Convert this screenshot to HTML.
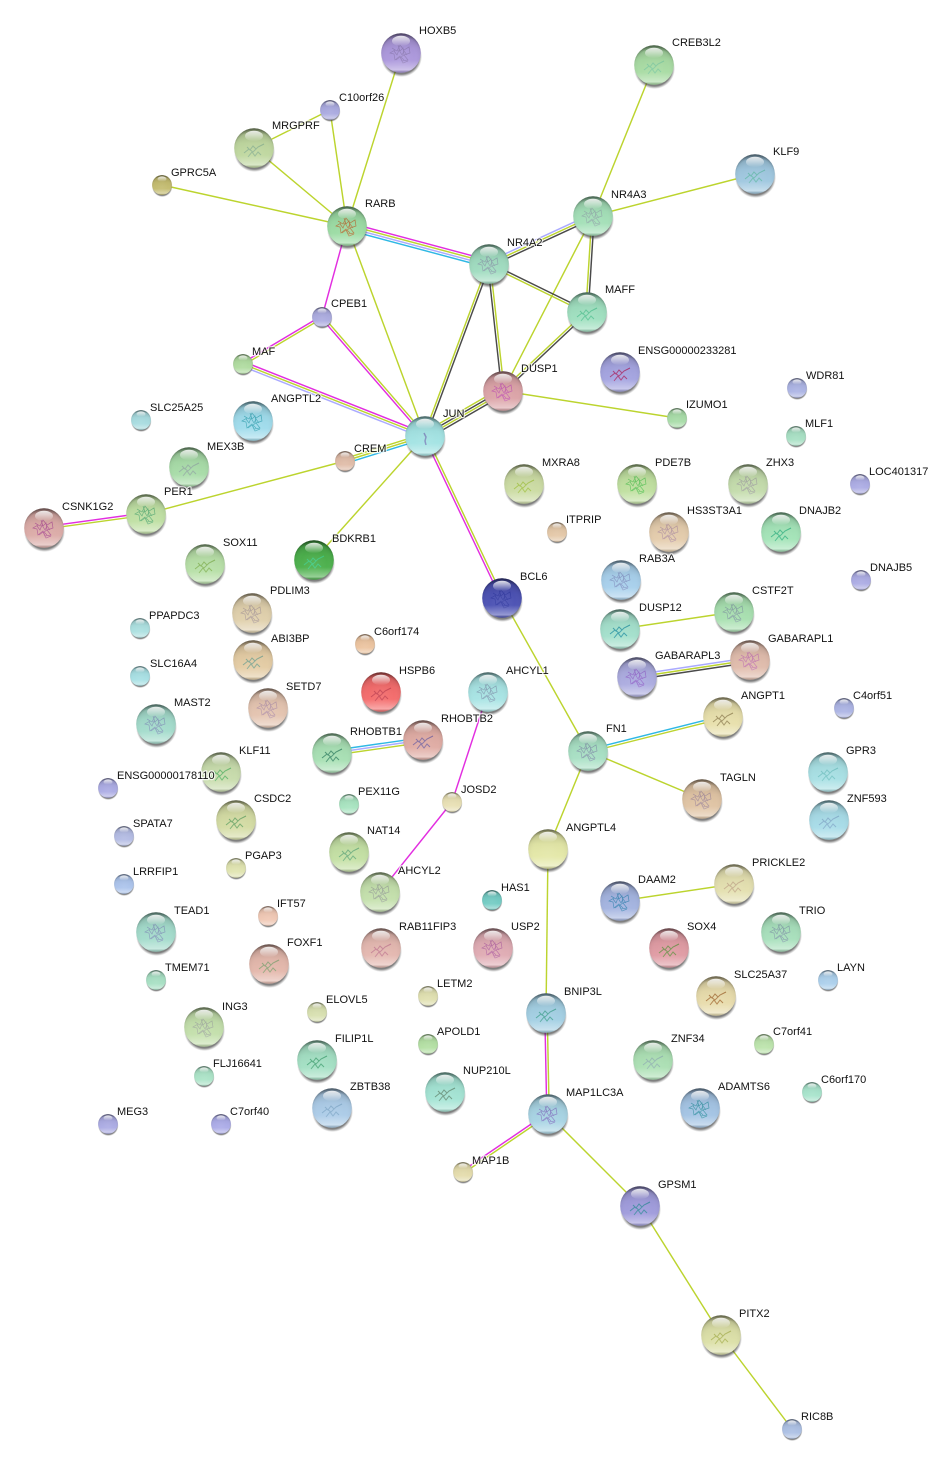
<!DOCTYPE html>
<html><head><meta charset="utf-8"><title>Network</title>
<style>
html,body{margin:0;padding:0;background:#fff;width:931px;height:1474px;overflow:hidden}
svg{display:block}
.e line{stroke-width:1.45;fill:none}
.l{stroke:#bcd42e}.m{stroke:#e22ee0}.k{stroke:#4a4a4a}.c{stroke:#2fb8e4}.v{stroke:#aaaaff}
text{font:11px "Liberation Sans",Arial,sans-serif;fill:#111;paint-order:stroke;stroke:rgba(255,255,255,.75);stroke-width:2.5px;stroke-linejoin:round}
</style></head><body>
<svg width="931" height="1474" viewBox="0 0 931 1474" xmlns="http://www.w3.org/2000/svg">
<defs>
<radialGradient id="gs" cx="50%" cy="50%" r="50%"><stop offset="0" stop-color="#222" stop-opacity=".7"/><stop offset=".86" stop-color="#333" stop-opacity=".62"/><stop offset="1" stop-color="#666" stop-opacity="0"/></radialGradient>
<radialGradient id="go" cx="50%" cy="58%" r="56%"><stop offset="0" stop-color="#fff" stop-opacity=".06"/><stop offset=".6" stop-color="#fff" stop-opacity="0"/><stop offset=".88" stop-color="#000" stop-opacity=".04"/><stop offset="1" stop-color="#000" stop-opacity=".26"/></radialGradient>
<linearGradient id="gt" x1="0" y1="0" x2="0" y2="1"><stop offset="0" stop-color="#000" stop-opacity=".42"/><stop offset=".16" stop-color="#000" stop-opacity=".12"/><stop offset=".38" stop-color="#000" stop-opacity=".03"/><stop offset=".68" stop-color="#fff" stop-opacity=".02"/><stop offset=".93" stop-color="#fff" stop-opacity=".42"/><stop offset="1" stop-color="#000" stop-opacity=".12"/></linearGradient>
<linearGradient id="gh" x1="0" y1="0" x2="0" y2="1"><stop offset="0" stop-color="#fff" stop-opacity=".85"/><stop offset="1" stop-color="#fff" stop-opacity="0"/></linearGradient>
<circle id="b" cx="0.5" cy="3.5" r="20.5" fill="url(#gs)"/>
<g id="o"><circle r="19.8" fill="url(#gt)"/><circle r="19.8" fill="url(#go)"/><ellipse cx="0" cy="-12" rx="9" ry="5.2" fill="url(#gh)"/></g>
<g id="s1" fill="none" stroke-width=".7" opacity=".8"><path d="M-9 -5l5 3 3-6 4 5 5-3 1 6-6 2 4 5-6 1-2-5-5 4-1-6-4-1 5-3z"/><path d="M-5 7l4-3 3 6 5-2M-7 -2l3 4 2-5 3 5 2-4 3 4M-3 -8l2 6 3-3 1 7-3 2 3 3"/></g>
<g id="s2" fill="none" stroke-width="1" opacity=".8"><path d="M-10 5l5-4 4 3 5-5 6-3M-6 9l4-5 3 4 3-4 3 3M-7 -1l3 3 3-4 3 3"/></g>
</defs>
<g class="e">
<line class="l" x1="401" y1="53" x2="347" y2="226"/><line class="l" x1="330" y1="110" x2="347" y2="226"/><line class="l" x1="254" y1="148" x2="347" y2="226"/><line class="l" x1="254" y1="148" x2="330" y2="110"/><line class="l" x1="162" y1="185" x2="347" y2="226"/><line class="l" x1="347" y1="226" x2="425" y2="436"/><line class="l" x1="654" y1="65" x2="593" y2="216"/><line class="l" x1="755" y1="174" x2="593" y2="216"/><line class="l" x1="593" y1="216" x2="503" y2="391"/><line class="l" x1="503" y1="391" x2="677" y2="418"/><line class="l" x1="345" y1="461" x2="146" y2="514"/><line class="l" x1="425" y1="436" x2="314" y2="560"/><line class="l" x1="502" y1="598" x2="588" y2="751"/><line class="l" x1="588" y1="751" x2="702" y2="799"/><line class="l" x1="588" y1="751" x2="548" y2="849"/><line class="l" x1="548" y1="849" x2="546" y2="1013"/><line class="l" x1="620" y1="629" x2="734" y2="612"/><line class="l" x1="620" y1="901" x2="734" y2="884"/><line class="l" x1="548" y1="1114" x2="640" y2="1206"/><line class="l" x1="640" y1="1206" x2="721" y2="1335"/><line class="l" x1="721" y1="1335" x2="792" y2="1429"/>
<line class="m" x1="347" y1="226" x2="322" y2="317"/><line class="m" x1="488" y1="692" x2="452" y2="802"/><line class="m" x1="452" y1="802" x2="380" y2="892"/>
<line class="m" x1="348" y1="222.5" x2="490" y2="260.5"/><line class="l" x1="347.3" y1="224.8" x2="489.3" y2="262.8"/><line class="v" x1="346.7" y1="227.2" x2="488.7" y2="265.2"/><line class="c" x1="346" y1="229.5" x2="488" y2="267.5"/>
<line class="v" x1="488" y1="261.8" x2="592" y2="213.8"/><line class="l" x1="489" y1="264" x2="593" y2="216"/><line class="k" x1="490" y1="266.2" x2="594" y2="218.2"/>
<line class="k" x1="489.5" y1="262.9" x2="587.5" y2="310.9"/><line class="l" x1="488.5" y1="265.1" x2="586.5" y2="313.1"/>
<line class="l" x1="487.9" y1="263.6" x2="423.9" y2="435.6"/><line class="k" x1="490.1" y1="264.4" x2="426.1" y2="436.4"/>
<line class="k" x1="487.8" y1="264.1" x2="501.8" y2="391.1"/><line class="l" x1="490.2" y1="263.9" x2="504.2" y2="390.9"/>
<line class="l" x1="591.8" y1="216" x2="585.8" y2="312"/><line class="k" x1="594.2" y1="216" x2="588.2" y2="312"/>
<line class="l" x1="586.2" y1="311.1" x2="502.2" y2="390.1"/><line class="k" x1="587.8" y1="312.9" x2="503.8" y2="391.9"/>
<line class="l" x1="423.2" y1="432.9" x2="501.2" y2="387.9"/><line class="k" x1="424.4" y1="435" x2="502.4" y2="390"/><line class="l" x1="425.6" y1="437" x2="503.6" y2="392"/><line class="k" x1="426.8" y1="439.1" x2="504.8" y2="394.1"/>
<line class="m" x1="321.4" y1="316" x2="242.4" y2="363"/><line class="l" x1="322.6" y1="318" x2="243.6" y2="365"/>
<line class="l" x1="322.9" y1="316.2" x2="425.9" y2="435.2"/><line class="m" x1="321.1" y1="317.8" x2="424.1" y2="436.8"/>
<line class="m" x1="243.9" y1="361.8" x2="425.9" y2="433.8"/><line class="l" x1="243" y1="364" x2="425" y2="436"/><line class="v" x1="242.1" y1="366.2" x2="424.1" y2="438.2"/>
<line class="l" x1="344.3" y1="458.7" x2="424.3" y2="433.7"/><line class="l" x1="345" y1="461" x2="425" y2="436"/><line class="c" x1="345.7" y1="463.3" x2="425.7" y2="438.3"/>
<line class="m" x1="43.9" y1="526.8" x2="145.9" y2="512.8"/><line class="l" x1="44.1" y1="529.2" x2="146.1" y2="515.2"/>
<line class="l" x1="426.1" y1="435.5" x2="503.1" y2="597.5"/><line class="m" x1="423.9" y1="436.5" x2="500.9" y2="598.5"/>
<line class="c" x1="331.7" y1="750.6" x2="422.7" y2="737.6"/><line class="v" x1="332" y1="753" x2="423" y2="740"/><line class="l" x1="332.3" y1="755.4" x2="423.3" y2="742.4"/>
<line class="c" x1="587.7" y1="749.8" x2="722.7" y2="715.8"/><line class="l" x1="588.3" y1="752.2" x2="723.3" y2="718.2"/>
<line class="v" x1="636.6" y1="674.6" x2="749.6" y2="657.6"/><line class="l" x1="637" y1="677" x2="750" y2="660"/><line class="k" x1="637.4" y1="679.4" x2="750.4" y2="662.4"/>
<line class="m" x1="544.8" y1="1013" x2="546.8" y2="1114"/><line class="l" x1="547.2" y1="1013" x2="549.2" y2="1114"/>
<line class="m" x1="547.3" y1="1113" x2="462.3" y2="1171"/><line class="l" x1="548.7" y1="1115" x2="463.7" y2="1173"/>
</g>
<g>
<g transform="translate(401 53)"><use href="#b"/><circle r="19.8" fill="#ac98dc"/><use href="#s1" stroke="#8a78b0"/><use href="#o"/></g>
<g transform="translate(654 65)"><use href="#b"/><circle r="19.8" fill="#a9dca4"/><use href="#s2" stroke="#7cc8a0"/><use href="#o"/></g>
<g transform="translate(330 110) scale(.5)"><use href="#b"/><circle r="19.8" fill="#aaaae0"/><use href="#o"/></g>
<g transform="translate(254 148)"><use href="#b"/><circle r="19.8" fill="#c0d8a0"/><use href="#s2" stroke="#88b090"/><use href="#o"/></g>
<g transform="translate(755 174)"><use href="#b"/><circle r="19.8" fill="#a0c8e0"/><use href="#s2" stroke="#60b8a8"/><use href="#o"/></g>
<g transform="translate(162 185) scale(.5)"><use href="#b"/><circle r="19.8" fill="#c4bc70"/><use href="#o"/></g>
<g transform="translate(347 226)"><use href="#b"/><circle r="19.8" fill="#9cdca4"/><use href="#s1" stroke="#b8622a"/><use href="#o"/></g>
<g transform="translate(593 216)"><use href="#b"/><circle r="19.8" fill="#a4e0b8"/><use href="#s1" stroke="#90a8a8"/><use href="#o"/></g>
<g transform="translate(489 264)"><use href="#b"/><circle r="19.8" fill="#a0dcc0"/><use href="#s1" stroke="#8898a8"/><use href="#o"/></g>
<g transform="translate(587 312)"><use href="#b"/><circle r="19.8" fill="#a0e0c0"/><use href="#s2" stroke="#50c090"/><use href="#o"/></g>
<g transform="translate(322 317) scale(.5)"><use href="#b"/><circle r="19.8" fill="#acace0"/><use href="#o"/></g>
<g transform="translate(243 364) scale(.5)"><use href="#b"/><circle r="19.8" fill="#b0dca0"/><use href="#o"/></g>
<g transform="translate(503 391)"><use href="#b"/><circle r="19.8" fill="#dca4a8"/><use href="#s1" stroke="#c050b0"/><use href="#o"/></g>
<g transform="translate(620 372)"><use href="#b"/><circle r="19.8" fill="#a4a4e0"/><use href="#s2" stroke="#a82060"/><use href="#o"/></g>
<g transform="translate(797 388) scale(.5)"><use href="#b"/><circle r="19.8" fill="#acb4e4"/><use href="#o"/></g>
<g transform="translate(677 418) scale(.5)"><use href="#b"/><circle r="19.8" fill="#a8dca8"/><use href="#o"/></g>
<g transform="translate(141 420) scale(.5)"><use href="#b"/><circle r="19.8" fill="#a8dce0"/><use href="#o"/></g>
<g transform="translate(253 421)"><use href="#b"/><circle r="19.8" fill="#a0dcec"/><use href="#s1" stroke="#30a0b0"/><use href="#o"/></g>
<g transform="translate(796 436) scale(.5)"><use href="#b"/><circle r="19.8" fill="#a8e0c4"/><use href="#o"/></g>
<g transform="translate(425 436)"><use href="#b"/><circle r="19.8" fill="#a4e4e4"/><path d="M-1 -3l2 4-1 4 1 4" fill="none" stroke="#8090c0" stroke-width="1.5"/><use href="#o"/></g>
<g transform="translate(189 467)"><use href="#b"/><circle r="19.8" fill="#a8dca8"/><use href="#s2" stroke="#90a8a0"/><use href="#o"/></g>
<g transform="translate(345 461) scale(.5)"><use href="#b"/><circle r="19.8" fill="#e0bca8"/><use href="#o"/></g>
<g transform="translate(860 484) scale(.5)"><use href="#b"/><circle r="19.8" fill="#acace4"/><use href="#o"/></g>
<g transform="translate(524 484)"><use href="#b"/><circle r="19.8" fill="#ccdca4"/><use href="#s2" stroke="#a0c040"/><use href="#o"/></g>
<g transform="translate(637 484)"><use href="#b"/><circle r="19.8" fill="#c0e0a0"/><use href="#s1" stroke="#50c050"/><use href="#o"/></g>
<g transform="translate(748 484)"><use href="#b"/><circle r="19.8" fill="#c4dcac"/><use href="#s1" stroke="#a0a0a0"/><use href="#o"/></g>
<g transform="translate(146 514)"><use href="#b"/><circle r="19.8" fill="#c0e0a4"/><use href="#s1" stroke="#50a870"/><use href="#o"/></g>
<g transform="translate(44 528)"><use href="#b"/><circle r="19.8" fill="#dcaca8"/><use href="#s1" stroke="#a84890"/><use href="#o"/></g>
<g transform="translate(557 532) scale(.5)"><use href="#b"/><circle r="19.8" fill="#e4c8a8"/><use href="#o"/></g>
<g transform="translate(669 532)"><use href="#b"/><circle r="19.8" fill="#e4ccac"/><use href="#s1" stroke="#b090a0"/><use href="#o"/></g>
<g transform="translate(781 532)"><use href="#b"/><circle r="19.8" fill="#a4e4b8"/><use href="#s2" stroke="#30b080"/><use href="#o"/></g>
<g transform="translate(205 564)"><use href="#b"/><circle r="19.8" fill="#b8e0a8"/><use href="#s2" stroke="#80b050"/><use href="#o"/></g>
<g transform="translate(314 560)"><use href="#b"/><circle r="19.8" fill="#4cb04c"/><use href="#s2" stroke="#40d090"/><use href="#o"/></g>
<g transform="translate(861 580) scale(.5)"><use href="#b"/><circle r="19.8" fill="#acace4"/><use href="#o"/></g>
<g transform="translate(621 580)"><use href="#b"/><circle r="19.8" fill="#a8d0ec"/><use href="#s1" stroke="#8090c0"/><use href="#o"/></g>
<g transform="translate(502 598)"><use href="#b"/><circle r="19.8" fill="#4c52b4"/><use href="#s1" stroke="#3038a0"/><use href="#o"/></g>
<g transform="translate(252 613)"><use href="#b"/><circle r="19.8" fill="#e0d0ac"/><use href="#s1" stroke="#a89898"/><use href="#o"/></g>
<g transform="translate(734 612)"><use href="#b"/><circle r="19.8" fill="#a8e0b0"/><use href="#s1" stroke="#8098a0"/><use href="#o"/></g>
<g transform="translate(140 628) scale(.5)"><use href="#b"/><circle r="19.8" fill="#ace0e0"/><use href="#o"/></g>
<g transform="translate(620 629)"><use href="#b"/><circle r="19.8" fill="#a4e0cc"/><use href="#s2" stroke="#2090a0"/><use href="#o"/></g>
<g transform="translate(365 644) scale(.5)"><use href="#b"/><circle r="19.8" fill="#ecc4a0"/><use href="#o"/></g>
<g transform="translate(253 660)"><use href="#b"/><circle r="19.8" fill="#e4cca4"/><use href="#s2" stroke="#70a090"/><use href="#o"/></g>
<g transform="translate(750 660)"><use href="#b"/><circle r="19.8" fill="#e0bcac"/><use href="#s1" stroke="#c070b0"/><use href="#o"/></g>
<g transform="translate(637 677)"><use href="#b"/><circle r="19.8" fill="#acace0"/><use href="#s1" stroke="#9060c8"/><use href="#o"/></g>
<g transform="translate(140 676) scale(.5)"><use href="#b"/><circle r="19.8" fill="#a8e0e4"/><use href="#o"/></g>
<g transform="translate(381 692)"><use href="#b"/><circle r="19.8" fill="#f46c6c"/><use href="#s2" stroke="#c04050"/><use href="#o"/></g>
<g transform="translate(488 692)"><use href="#b"/><circle r="19.8" fill="#a8e4e4"/><use href="#s1" stroke="#8098b0"/><use href="#o"/></g>
<g transform="translate(723 717)"><use href="#b"/><circle r="19.8" fill="#e8e0ac"/><use href="#s2" stroke="#908050"/><use href="#o"/></g>
<g transform="translate(844 708) scale(.5)"><use href="#b"/><circle r="19.8" fill="#acb4e4"/><use href="#o"/></g>
<g transform="translate(268 708)"><use href="#b"/><circle r="19.8" fill="#e4c4b0"/><use href="#s1" stroke="#b090a8"/><use href="#o"/></g>
<g transform="translate(156 724)"><use href="#b"/><circle r="19.8" fill="#a4dccc"/><use href="#s1" stroke="#8090b8"/><use href="#o"/></g>
<g transform="translate(423 740)"><use href="#b"/><circle r="19.8" fill="#e0aca4"/><use href="#s2" stroke="#7060a0"/><use href="#o"/></g>
<g transform="translate(332 753)"><use href="#b"/><circle r="19.8" fill="#a8e0b4"/><use href="#s2" stroke="#308060"/><use href="#o"/></g>
<g transform="translate(588 751)"><use href="#b"/><circle r="19.8" fill="#a8e0c4"/><use href="#s1" stroke="#8090a8"/><use href="#o"/></g>
<g transform="translate(221 772)"><use href="#b"/><circle r="19.8" fill="#c8dcac"/><use href="#s2" stroke="#50b060"/><use href="#o"/></g>
<g transform="translate(828 772)"><use href="#b"/><circle r="19.8" fill="#a8e0e4"/><use href="#s2" stroke="#70c0c0"/><use href="#o"/></g>
<g transform="translate(108 788) scale(.5)"><use href="#b"/><circle r="19.8" fill="#acace4"/><use href="#o"/></g>
<g transform="translate(702 799)"><use href="#b"/><circle r="19.8" fill="#e0c4a4"/><use href="#s1" stroke="#a08898"/><use href="#o"/></g>
<g transform="translate(452 802) scale(.5)"><use href="#b"/><circle r="19.8" fill="#e8e0b4"/><use href="#o"/></g>
<g transform="translate(349 804) scale(.5)"><use href="#b"/><circle r="19.8" fill="#a8e4c0"/><use href="#o"/></g>
<g transform="translate(829 820)"><use href="#b"/><circle r="19.8" fill="#a8dce8"/><use href="#s2" stroke="#80a8c8"/><use href="#o"/></g>
<g transform="translate(236 820)"><use href="#b"/><circle r="19.8" fill="#d4dca4"/><use href="#s2" stroke="#60a060"/><use href="#o"/></g>
<g transform="translate(124 836) scale(.5)"><use href="#b"/><circle r="19.8" fill="#b4bce4"/><use href="#o"/></g>
<g transform="translate(349 852)"><use href="#b"/><circle r="19.8" fill="#c4e0a4"/><use href="#s2" stroke="#60a878"/><use href="#o"/></g>
<g transform="translate(548 849)"><use href="#b"/><circle r="19.8" fill="#e4e8a8"/><use href="#o"/></g>
<g transform="translate(236 868) scale(.5)"><use href="#b"/><circle r="19.8" fill="#e0e4b0"/><use href="#o"/></g>
<g transform="translate(124 884) scale(.5)"><use href="#b"/><circle r="19.8" fill="#acc4ec"/><use href="#o"/></g>
<g transform="translate(734 884)"><use href="#b"/><circle r="19.8" fill="#e4e0b0"/><use href="#s2" stroke="#c0a888"/><use href="#o"/></g>
<g transform="translate(380 892)"><use href="#b"/><circle r="19.8" fill="#c4e0ac"/><use href="#s1" stroke="#98a098"/><use href="#o"/></g>
<g transform="translate(492 900) scale(.5)"><use href="#b"/><circle r="19.8" fill="#74ccc4"/><use href="#o"/></g>
<g transform="translate(620 901)"><use href="#b"/><circle r="19.8" fill="#a4b4e0"/><use href="#s1" stroke="#3080b0"/><use href="#o"/></g>
<g transform="translate(268 916) scale(.5)"><use href="#b"/><circle r="19.8" fill="#f0c8b4"/><use href="#o"/></g>
<g transform="translate(156 932)"><use href="#b"/><circle r="19.8" fill="#a4dccc"/><use href="#s1" stroke="#8090b8"/><use href="#o"/></g>
<g transform="translate(781 932)"><use href="#b"/><circle r="19.8" fill="#a8e0bc"/><use href="#s1" stroke="#8098a8"/><use href="#o"/></g>
<g transform="translate(381 948)"><use href="#b"/><circle r="19.8" fill="#e4b8b0"/><use href="#s2" stroke="#c07890"/><use href="#o"/></g>
<g transform="translate(493 948)"><use href="#b"/><circle r="19.8" fill="#e0acb4"/><use href="#s1" stroke="#b060a0"/><use href="#o"/></g>
<g transform="translate(669 948)"><use href="#b"/><circle r="19.8" fill="#e09ca4"/><use href="#s2" stroke="#609040"/><use href="#o"/></g>
<g transform="translate(269 964)"><use href="#b"/><circle r="19.8" fill="#e4b8ac"/><use href="#s2" stroke="#80a070"/><use href="#o"/></g>
<g transform="translate(156 980) scale(.5)"><use href="#b"/><circle r="19.8" fill="#a8e0c4"/><use href="#o"/></g>
<g transform="translate(828 980) scale(.5)"><use href="#b"/><circle r="19.8" fill="#acd0ec"/><use href="#o"/></g>
<g transform="translate(428 996) scale(.5)"><use href="#b"/><circle r="19.8" fill="#e0e0b0"/><use href="#o"/></g>
<g transform="translate(716 996)"><use href="#b"/><circle r="19.8" fill="#e8dcac"/><use href="#s2" stroke="#a06830"/><use href="#o"/></g>
<g transform="translate(317 1012) scale(.5)"><use href="#b"/><circle r="19.8" fill="#d8e0b0"/><use href="#o"/></g>
<g transform="translate(546 1013)"><use href="#b"/><circle r="19.8" fill="#a4d0e4"/><use href="#s2" stroke="#40a090"/><use href="#o"/></g>
<g transform="translate(204 1027)"><use href="#b"/><circle r="19.8" fill="#c4e0ac"/><use href="#s1" stroke="#a0a8a0"/><use href="#o"/></g>
<g transform="translate(428 1044) scale(.5)"><use href="#b"/><circle r="19.8" fill="#b4e0a4"/><use href="#o"/></g>
<g transform="translate(764 1044) scale(.5)"><use href="#b"/><circle r="19.8" fill="#bce4ac"/><use href="#o"/></g>
<g transform="translate(317 1060)"><use href="#b"/><circle r="19.8" fill="#a4e0c4"/><use href="#s2" stroke="#40a070"/><use href="#o"/></g>
<g transform="translate(653 1060)"><use href="#b"/><circle r="19.8" fill="#ace0b4"/><use href="#s2" stroke="#90b0b0"/><use href="#o"/></g>
<g transform="translate(204 1076) scale(.5)"><use href="#b"/><circle r="19.8" fill="#ace4c8"/><use href="#o"/></g>
<g transform="translate(812 1092) scale(.5)"><use href="#b"/><circle r="19.8" fill="#a8e4cc"/><use href="#o"/></g>
<g transform="translate(445 1092)"><use href="#b"/><circle r="19.8" fill="#a4e4d4"/><use href="#s2" stroke="#608870"/><use href="#o"/></g>
<g transform="translate(332 1108)"><use href="#b"/><circle r="19.8" fill="#accce8"/><use href="#s2" stroke="#80a8c8"/><use href="#o"/></g>
<g transform="translate(700 1108)"><use href="#b"/><circle r="19.8" fill="#a4c4e4"/><use href="#s1" stroke="#3090a0"/><use href="#o"/></g>
<g transform="translate(548 1114)"><use href="#b"/><circle r="19.8" fill="#a8d4e4"/><use href="#s1" stroke="#8070c0"/><use href="#o"/></g>
<g transform="translate(108 1124) scale(.5)"><use href="#b"/><circle r="19.8" fill="#acace4"/><use href="#o"/></g>
<g transform="translate(221 1124) scale(.5)"><use href="#b"/><circle r="19.8" fill="#acace8"/><use href="#o"/></g>
<g transform="translate(463 1172) scale(.5)"><use href="#b"/><circle r="19.8" fill="#e4dcac"/><use href="#o"/></g>
<g transform="translate(640 1206)"><use href="#b"/><circle r="19.8" fill="#a09cdc"/><use href="#s2" stroke="#308898"/><use href="#o"/></g>
<g transform="translate(721 1335)"><use href="#b"/><circle r="19.8" fill="#dce0a8"/><use href="#s2" stroke="#a8b050"/><use href="#o"/></g>
<g transform="translate(792 1429) scale(.5)"><use href="#b"/><circle r="19.8" fill="#acc0e4"/><use href="#o"/></g>
</g>
<g>
<text x="419" y="34">HOXB5</text><text x="672" y="46">CREB3L2</text><text x="339" y="101">C10orf26</text><text x="272" y="129">MRGPRF</text><text x="773" y="155">KLF9</text><text x="171" y="176">GPRC5A</text><text x="365" y="207">RARB</text><text x="611" y="198">NR4A3</text><text x="507" y="246">NR4A2</text><text x="605" y="293">MAFF</text><text x="331" y="307">CPEB1</text><text x="252" y="355">MAF</text><text x="521" y="372">DUSP1</text><text x="638" y="354">ENSG00000233281</text><text x="806" y="379">WDR81</text><text x="686" y="408">IZUMO1</text><text x="150" y="411">SLC25A25</text><text x="271" y="402">ANGPTL2</text><text x="805" y="427">MLF1</text><text x="443" y="417">JUN</text><text x="207" y="450">MEX3B</text><text x="354" y="452">CREM</text><text x="869" y="475">LOC401317</text><text x="542" y="466">MXRA8</text><text x="655" y="466">PDE7B</text><text x="766" y="466">ZHX3</text><text x="164" y="495">PER1</text><text x="62" y="510">CSNK1G2</text><text x="566" y="523">ITPRIP</text><text x="687" y="514">HS3ST3A1</text><text x="799" y="514">DNAJB2</text><text x="223" y="546">SOX11</text><text x="332" y="542">BDKRB1</text><text x="870" y="571">DNAJB5</text><text x="639" y="562">RAB3A</text><text x="520" y="580">BCL6</text><text x="270" y="594">PDLIM3</text><text x="752" y="594">CSTF2T</text><text x="149" y="619">PPAPDC3</text><text x="639" y="611">DUSP12</text><text x="374" y="635">C6orf174</text><text x="271" y="642">ABI3BP</text><text x="768" y="642">GABARAPL1</text><text x="655" y="659">GABARAPL3</text><text x="150" y="667">SLC16A4</text><text x="399" y="674">HSPB6</text><text x="506" y="674">AHCYL1</text><text x="741" y="699">ANGPT1</text><text x="853" y="699">C4orf51</text><text x="286" y="690">SETD7</text><text x="174" y="706">MAST2</text><text x="441" y="722">RHOBTB2</text><text x="350" y="735">RHOBTB1</text><text x="606" y="732">FN1</text><text x="239" y="754">KLF11</text><text x="846" y="754">GPR3</text><text x="117" y="779">ENSG00000178110</text><text x="720" y="781">TAGLN</text><text x="461" y="793">JOSD2</text><text x="358" y="795">PEX11G</text><text x="847" y="802">ZNF593</text><text x="254" y="802">CSDC2</text><text x="133" y="827">SPATA7</text><text x="367" y="834">NAT14</text><text x="566" y="831">ANGPTL4</text><text x="245" y="859">PGAP3</text><text x="133" y="875">LRRFIP1</text><text x="752" y="866">PRICKLE2</text><text x="398" y="874">AHCYL2</text><text x="501" y="891">HAS1</text><text x="638" y="883">DAAM2</text><text x="277" y="907">IFT57</text><text x="174" y="914">TEAD1</text><text x="799" y="914">TRIO</text><text x="399" y="930">RAB11FIP3</text><text x="511" y="930">USP2</text><text x="687" y="930">SOX4</text><text x="287" y="946">FOXF1</text><text x="165" y="971">TMEM71</text><text x="837" y="971">LAYN</text><text x="437" y="987">LETM2</text><text x="734" y="978">SLC25A37</text><text x="326" y="1003">ELOVL5</text><text x="564" y="995">BNIP3L</text><text x="222" y="1010">ING3</text><text x="437" y="1035">APOLD1</text><text x="773" y="1035">C7orf41</text><text x="335" y="1042">FILIP1L</text><text x="671" y="1042">ZNF34</text><text x="213" y="1067">FLJ16641</text><text x="821" y="1083">C6orf170</text><text x="463" y="1074">NUP210L</text><text x="350" y="1090">ZBTB38</text><text x="718" y="1090">ADAMTS6</text><text x="566" y="1096">MAP1LC3A</text><text x="117" y="1115">MEG3</text><text x="230" y="1115">C7orf40</text><text x="472" y="1164">MAP1B</text><text x="658" y="1188">GPSM1</text><text x="739" y="1317">PITX2</text><text x="801" y="1420">RIC8B</text>
</g>
</svg>
</body></html>
